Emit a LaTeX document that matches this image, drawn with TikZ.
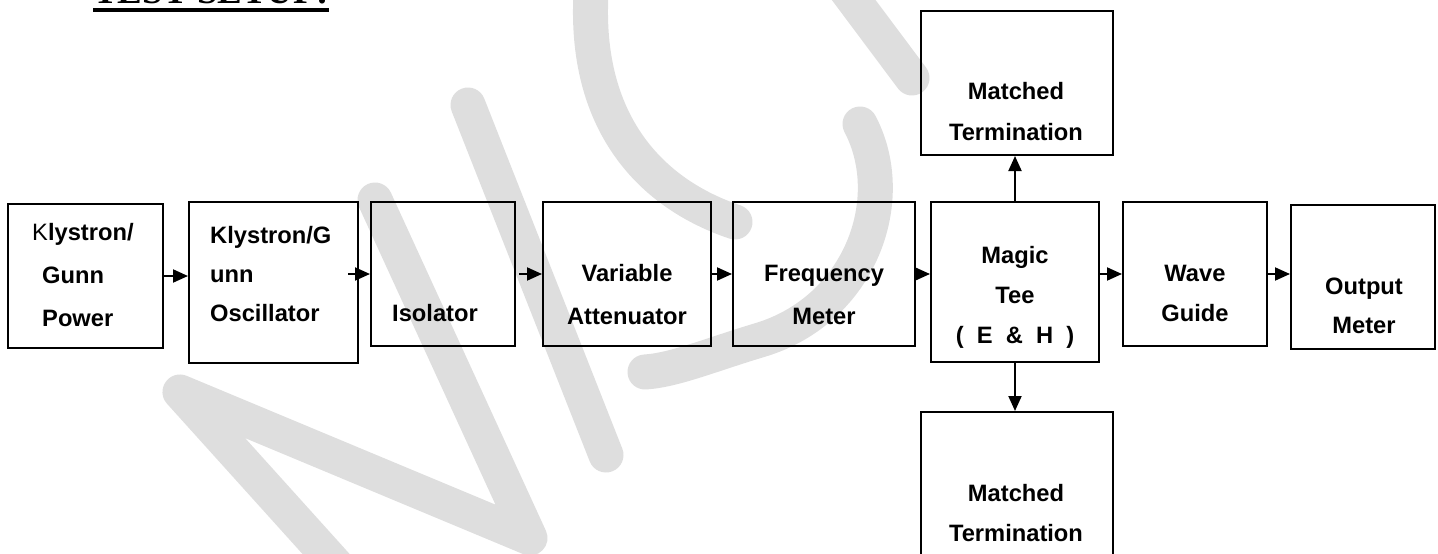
\documentclass[tikz,border=0pt]{standalone}
\usepackage{fontspec}
\setmainfont{Liberation Sans}
\newfontfamily\titleserif{Liberation Serif}
\usetikzlibrary{arrows.meta}
\tikzset{
  blk/.style={draw, line width=2pt, rectangle, inner sep=0pt},
  lbl/.style={font=\fontsize{23.7}{#1}\selectfont\bfseries, align=center, inner sep=0pt},
  lbl/.default=41,
  arr/.style={line width=2pt, -{Triangle[length=15pt,width=13pt]}},
  wmark/.style={line width=35pt, black!13, line cap=round, line join=round}
}

\begin{document}
\begin{tikzpicture}[x=1pt, y=-1pt]
    \useasboundingbox (0,0) rectangle (1438,554);
    % faint watermark behind the chain
    \draw[wmark] (345,575) -- (180,392) -- (530,538) -- (375,200);
    \draw[wmark] (468,105) -- (606,455);
    \draw[wmark] (592,-20) .. controls (580,110) and (640,190) .. (735,222);
    \draw[wmark] (860,124) .. controls (900,200) and (860,310) .. (760,340) .. controls (710,355) and (675,370) .. (645,372);
    \draw[wmark] (835,-25) -- (912,78);

    % heading
    \node[font=\titleserif\fontsize{37}{40}\selectfont\bfseries, inner sep=0pt, anchor=base west] (title) at (93,3) {TEST SETUP:};
    \draw[line width=4pt] ([yshift=-7pt]title.base west) -- ([yshift=-7pt]title.base east);

    % blocks
    \node[blk, minimum width=155pt, minimum height=144pt] (kpow) at (85.5,276) {};
    \node[blk, minimum width=169pt, minimum height=161pt] (kosc) at (273.5,282.5) {};
    \node[blk, minimum width=144pt, minimum height=144pt] (iso) at (443,274) {};
    \node[blk, minimum width=168pt, minimum height=144pt] (att) at (627,274) {};
    \node[blk, minimum width=182pt, minimum height=144pt] (freq) at (824,274) {};
    \node[blk, minimum width=168pt, minimum height=160pt] (tee) at (1015,282) {};
    \node[blk, minimum width=144pt, minimum height=144pt] (wg) at (1195,274) {};
    \node[blk, minimum width=144pt, minimum height=144pt] (outm) at (1363,277) {};
    \node[blk, minimum width=192pt, minimum height=144pt] (mtop) at (1017,83) {};
    \node[blk, minimum width=192pt, minimum height=160pt] (mbot) at (1017,492) {};

    % block texts
    \node[lbl=43, align=left, anchor=west] (kpowT) at (32,275) {{\mdseries K}lystron/\\\hspace*{10pt}Gunn\\\hspace*{10pt}Power};
    \node[lbl=39, align=left, anchor=west] (koscT) at (210,274) {Klystron/G\\unn\\Oscillator};
    \node[lbl] (isoT) at (435,313) {Isolator};
    \node[lbl=43] (attT) at (627,295) {Variable\\Attenuator};
    \node[lbl=43] (freqT) at (824,295) {Frequency\\Meter};
    \node[lbl=40] (teeT) at (1015,297) {Magic\\Tee\\(~~E~~\&~~H~~)};
    \node[lbl] (mtopT) at (1016,112) {Matched\\Termination};
    \node[lbl=40] (mbotT) at (1016,513) {Matched\\Termination};
    \node[lbl=40] (wgT) at (1195,293) {Wave\\Guide};
    \node[lbl=39] (outT) at (1364,305.5) {Output\\Meter};

    % connectors
    \draw[arr] (kpow.east) -- (kpow.east -| kosc.west);
    \draw[arr] ([xshift=-11pt]iso.west -| kosc.east) -- (iso.west);
    \draw[arr] ([xshift=3pt]iso.east) -- (att.west);
    \draw[arr] (att.east) -- (freq.west);
    \draw[arr] (freq.east) -- (freq.east -| tee.west);
    \draw[arr] (wg.west -| tee.east) -- (wg.west);
    \draw[arr] (wg.east) -- (wg.east -| outm.west);
    \draw[arr] (tee.north) -- (tee.north |- mtop.south);
    \draw[arr] (tee.south) -- (tee.south |- mbot.north);
\end{tikzpicture}
\end{document}
